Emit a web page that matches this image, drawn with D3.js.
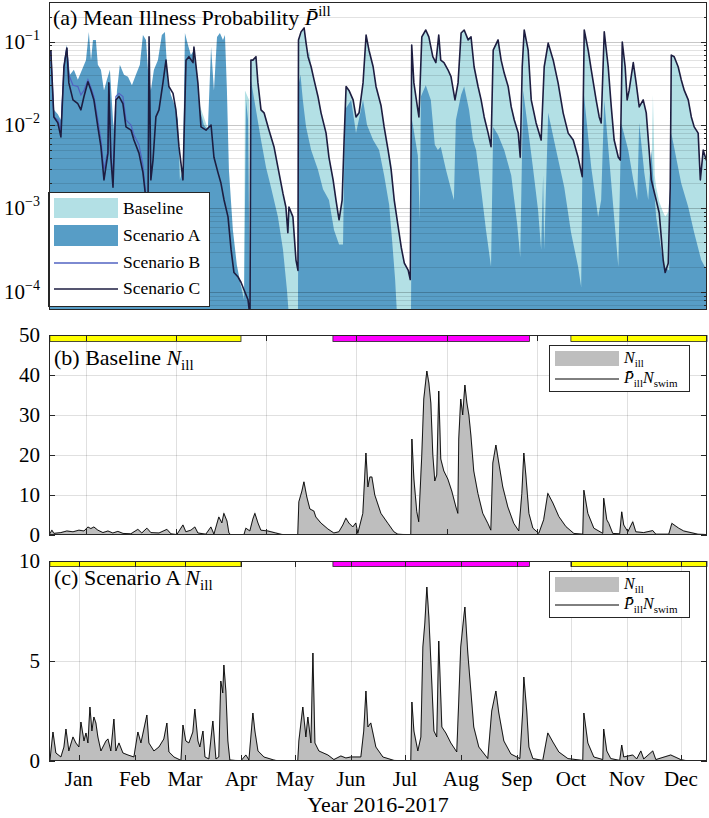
<!DOCTYPE html>
<html><head><meta charset="utf-8">
<script src="https://cdn.jsdelivr.net/npm/d3@7"></script>
<style>body{margin:0;background:#fff}text{font-family:"Liberation Serif",serif;fill:#000}</style>
</head><body><svg id="c" width="709" height="818"></svg>
<script>
// ---------------- DATA ----------------
// day offsets counted from 16 Dec 2016
const monthTicks = ["2017-01-01","2017-02-01","2017-03-01","2017-04-01","2017-05-01","2017-06-01","2017-07-01","2017-08-01","2017-09-01","2017-10-01","2017-11-01","2017-12-01"];
const monthLabels = ["Jan","Feb","Mar","Apr","May","Jun","Jul","Aug","Sep","Oct","Nov","Dec"];
const panelBTicks = ["2017-01-05","2017-02-24","2017-04-15","2017-06-04","2017-07-24","2017-09-12","2017-11-01"];
const seasonStart = ["2016-12-16","2017-05-22","2017-10-01"];
const seasonEnd   = ["2017-04-01","2017-09-08","2017-12-16"];
const seasonType  = ["winter","bathing","winter"];
const probTicks = [1e-4,1e-3,1e-2,1e-1];
const countTicksB = [0,10,20,30,40,50];
const countTicksC = [0,5,10];

const baselineP = [[0,0.05],[2.2,0.012],[6.1,0.007],[9.4,0.05],[15.5,0.015],[21.1,0.02],[28.3,0.004],[30,0.002],[36.6,0.015],[42.2,0.008],[49.4,0.004],[53.3,0.001],[58.8,0.01],[64.4,0.03],[70,0.01],[73.8,0.0018],[77,0.05],[82.1,0.02],[89.4,0.007],[96.6,0.001],[100.5,0.0003],[104.4,0.00014],[107.7,0.0001],[108.2,0.026],[110.5,0.02],[111.0,0.00005],
[111.5,0.060],[112.6,0.060],[114.3,0.066],[115.4,0.032],[117.1,0.0152],[118.8,0.014],[121.5,0.0087],[124.3,0.0055],[126.5,0.0031],[129.3,0.0015],[130.9,0.00104],[132.0,0.00051],[132.6,0.00104],[134.8,0.00079],[136.5,0.00024],[137.6,0.00018],[137.9,0.105],[139.3,0.131],[141.0,0.146],[142.1,0.096],[143.2,0.07],[144.0,0.079],[144.9,0.050],[146.5,0.035],[148.7,0.022],[150.4,0.014],[153.2,0.0080],[154.8,0.0041],[157.1,0.0022],[158.7,0.00126],[159.8,0.00088],[160.4,0.00073],[162.1,0.00126],[163.2,0.0066],[164.3,0.029],[165.9,0.026],[168.2,0.020],[169.8,0.0125],[171.5,0.014],[173.7,0.032],[175.4,0.120],[177.0,0.079],[179.3,0.050],[180.9,0.029],[183.7,0.017],[185.4,0.0095],[187.6,0.0050],[189.3,0.0035],[191.0,0.00126],[193.2,0.00060],[194.9,0.00034],[196.6,0.00022],[198.8,0.00018],[199.9,0.00014],[200.7,0.091],[201.9,0.032],[204.1,0.0152],[204.7,0.0125],[206.3,0.114],[208.5,0.138],[210.2,0.114],[212.4,0.066],[214.1,0.056],[215.7,0.120],[216.8,0.060],[218.6,0.056],[220.8,0.046],[222.5,0.038],[224.7,0.020],[226.4,0.032],[228.1,0.127],[229.8,0.138],[232.0,0.105],[233.6,0.114],[235.3,0.050],[237.5,0.029],[239.2,0.020],[240.9,0.0125],[243.1,0.0080],[244.7,0.0055],[245.9,0.079],[248.6,0.105],[250.3,0.060],[252.0,0.042],[254.2,0.029],[255.9,0.0165],[257.6,0.0115],[259.8,0.0080],[260.9,0.0041],[262.0,0.050],[263.1,0.138],[265.3,0.079],[267.0,0.020],[269.7,0.0106],[272.5,0.0066],[274.2,0.050],[276.4,0.096],[279.2,0.060],[281.9,0.032],[284.7,0.014],[287.5,0.0080],[290.3,0.0066],[293.0,0.0041],[295.3,0.0024],[296.4,0.138],[298.6,0.079],[300.3,0.046],[303.0,0.020],[304.7,0.0125],[305.8,0.0106],[307.5,0.131],[309.7,0.050],[311.4,0.0165],[313.0,0.0066],[315.3,0.0041],[316.4,0.0038],[317.5,0.099],[319.1,0.050],[320.2,0.020],[321.3,0.026],[323.6,0.056],[325.2,0.032],[326.9,0.0165],[329.1,0.020],[330.8,0.014],[332.4,0.0050],[333.6,0.0022],[334.5,0.023],[335.5,0.0025],[336.3,0.0018],[338.0,0.0012],[340.2,0.0009],[341.3,0.0008],[343.0,0.0009],[344.1,0.0018],[344.7,0.069],[346.3,0.066],[348.5,0.050],[350.2,0.035],[351.9,0.026],[354.1,0.020],[355.8,0.0125],[357.4,0.0095],[359.6,0.0080],[360.8,0.0022],[362.4,0.0050],[364.1,0.0038],[365,0.0041]];

const scenarioA = [[0,0.060],[0.5,0.079],[2.2,0.0152],[4.4,0.0135],[6.1,0.0115],[7.8,0.060],[9.4,0.091],[11.1,0.040],[13.3,0.046],[15.5,0.035],[17.8,0.046],[20.0,0.060],[21.6,0.131],[22.8,0.060],[23.9,0.105],[25.5,0.105],[26.6,0.053],[28.3,0.046],[30.0,0.026],[31.6,0.035],[33.3,0.046],[35.0,0.0115],[36.0,0.0066],[37.2,0.026],[38.8,0.053],[41.1,0.04],[43.3,0.038],[45.5,0.03],[47.7,0.04],[49.9,0.053],[51.6,0.120],[53.3,0.105],[54.4,0.046],[56.0,0.026],[57.7,0.046],[59.9,0.060],[62.1,0.120],[63.8,0.131],[65.4,0.035],[67.1,0.023],[69.3,0.017],[71.0,0.0115],[72.1,0.0022],[73.8,0.0029],[74.9,0.127],[76.6,0.091],[78.2,0.069],[79.9,0.079],[81.5,0.046],[83.2,0.0152],[85.4,0.010],[87.6,0.0087],[89.4,0.086],[91.0,0.026],[92.7,0.114],[94.3,0.127],[96.0,0.105],[97.1,0.120],[98.2,0.026],[99.3,0.0029],[101.5,0.00055],[103.7,0.00021],[105.9,0.00012],[107.7,0.00008],[108.8,0.020],[109.9,0.0115],[111.0,0.00005],[111.5,0.035],[114.3,0.0152],[117.1,0.0066],[119.9,0.0031],[122.6,0.0018],[126.5,0.00079],[129.3,0.00032],[131.5,0.000105],[132.6,0.00005],[137.6,0.00005],[137.9,0.03],[139.0,0.04],[140.3,0.020],[142.1,0.0095],[144.9,0.0050],[148.7,0.0029],[151.5,0.0017],[154.8,0.00126],[157.6,0.00055],[160.4,0.00037],[162.6,0.00037],[163.7,0.0152],[167.1,0.020],[169.8,0.0080],[173.7,0.020],[175.9,0.010],[179.3,0.0066],[182.6,0.0050],[185.4,0.0025],[188.2,0.0011],[189.8,0.00042],[191.5,0.00014],[192.6,0.00005],[200.3,0.00005],[200.9,0.0115],[204.1,0.0043],[205.2,0.00073],[205.8,0.022],[208.5,0.030],[211.3,0.020],[213.5,0.0058],[215.2,0.0050],[216.8,0.0055],[219.7,0.0029],[222.5,0.0017],[224.1,0.00126],[225.2,0.0115],[228.1,0.023],[229.8,0.029],[232.5,0.0152],[234.7,0.0066],[236.4,0.0050],[239.2,0.0017],[241.9,0.00055],[244.7,0.00020],[245.9,0.0095],[248.6,0.0076],[252.0,0.0050],[255.9,0.0025],[259.2,0.00065],[260.9,0.00026],[262.5,0.026],[265.3,0.0087],[268.1,0.0029],[270.8,0.00095],[272.5,0.00032],[273.6,0.0025],[274.2,0.00032],[276.4,0.014],[280.8,0.0050],[285.3,0.0018],[289.1,0.00051],[293.0,0.00020],[294.7,0.000114],[295.8,0.029],[300.3,0.0031],[304.1,0.00079],[305.8,0.00126],[307.5,0.020],[311.4,0.0020],[315.3,0.00020],[316.9,0.0106],[320.8,0.0050],[323.6,0.0022],[325.8,0.00126],[326.9,0.0106],[329.7,0.0027],[331.9,0.00126],[333.6,0.0050],[336.3,0.00079],[339.1,0.00032],[340.7,0.00020],[343.5,0.00018],[344.7,0.0080],[350.2,0.0020],[354.1,0.00104],[357.4,0.00051],[361.3,0.00024],[365,0.00017]];

const scenarioB = [[0.5,0.079],[2.2,0.0125],[4.4,0.0115],[6.1,0.0087],[7.8,0.050],[9.4,0.084],[10.5,0.040],[12.8,0.030],[15.5,0.029],[17.2,0.023],[18.9,0.026],[21.1,0.035],[22.8,0.028],[24.4,0.022],[26.6,0.0115],[28.3,0.0066],[30.0,0.0029],[32.2,0.0050],[32.7,0.032],[33.8,0.0050],[35.0,0.0022],[36.6,0.022],[38.3,0.024],[40.5,0.022],[42.2,0.0115],[45.0,0.010],[46.6,0.0076],[49.4,0.0058],[51.6,0.0033],[53.3,0.0014],[54.4,0.00083]];

const scenarioC = [[0.5,0.079],[2.2,0.0125],[4.4,0.0106],[6.1,0.0072],[7.8,0.050],[9.4,0.084],[10.5,0.032],[12.8,0.020],[15.5,0.018],[17.2,0.0152],[18.9,0.022],[21.1,0.033],[22.8,0.026],[24.4,0.020],[26.6,0.0095],[28.3,0.0055],[30.0,0.0022],[32.2,0.0046],[32.7,0.032],[33.8,0.0041],[35.0,0.0018],[36.6,0.020],[38.3,0.022],[40.5,0.018],[42.2,0.0095],[45.0,0.0087],[46.6,0.0066],[49.4,0.0046],[51.6,0.0027],[53.3,0.00126],[54.4,0.00083],[55.0,0.114],[56.0,0.0022],[57.2,0.0038],[58.8,0.0125],[60.5,0.0152],[62.7,0.032],[64.4,0.060],[66.0,0.029],[68.3,0.024],[69.9,0.0152],[71.6,0.0055],[73.8,0.0022],[75.5,0.060],[77.1,0.066],[79.4,0.056],[79.9,0.086],[82.1,0.032],[83.8,0.0095],[86.6,0.0087],[89.4,0.010],[91.0,0.0041],[93.2,0.0027],[94.9,0.0020],[96.6,0.00126],[98.8,0.00079],[100.5,0.00032],[102.1,0.00017],[104.4,0.00015],[106.0,0.00013],[107.7,0.000105],[109.9,0.00008],[111.0,0.00005],[111.5,0.060],[112.6,0.060],[114.3,0.066],[115.4,0.032],[117.1,0.0152],[118.8,0.014],[121.5,0.0087],[124.3,0.0055],[126.5,0.0031],[129.3,0.0015],[130.9,0.00104],[132.0,0.00051],[132.6,0.00104],[134.8,0.00079],[136.5,0.00024],[137.6,0.00018],[137.9,0.105],[139.3,0.131],[141.0,0.146],[142.1,0.096],[143.2,0.066],[144.9,0.050],[146.5,0.035],[148.7,0.022],[150.4,0.014],[153.2,0.0080],[154.8,0.0041],[157.1,0.0022],[158.7,0.00126],[159.8,0.00088],[160.4,0.00073],[162.1,0.00126],[163.2,0.0066],[164.3,0.029],[165.9,0.026],[168.2,0.020],[169.8,0.0125],[171.5,0.014],[173.7,0.032],[175.4,0.120],[177.0,0.079],[179.3,0.050],[180.9,0.029],[183.7,0.017],[185.4,0.0095],[187.6,0.0050],[189.3,0.0029],[191.0,0.00126],[193.2,0.00060],[194.9,0.00034],[196.6,0.00022],[198.8,0.00018],[199.9,0.00014],[200.7,0.091],[201.9,0.032],[204.1,0.0152],[204.7,0.0125],[206.3,0.114],[208.5,0.138],[210.2,0.114],[212.4,0.066],[214.1,0.056],[215.7,0.120],[216.8,0.060],[218.6,0.056],[220.8,0.046],[222.5,0.038],[224.7,0.020],[226.4,0.032],[228.1,0.127],[229.8,0.138],[232.0,0.105],[233.6,0.114],[235.3,0.050],[237.5,0.029],[239.2,0.020],[240.9,0.0125],[243.1,0.0080],[244.7,0.0055],[245.9,0.079],[248.6,0.105],[250.3,0.060],[252.0,0.042],[254.2,0.029],[255.9,0.0165],[257.6,0.0115],[259.8,0.0080],[260.9,0.0041],[262.0,0.050],[263.1,0.138],[265.3,0.079],[267.0,0.020],[269.7,0.0106],[272.5,0.0066],[274.2,0.050],[276.4,0.096],[279.2,0.060],[281.9,0.032],[284.7,0.014],[287.5,0.0080],[290.3,0.0066],[293.0,0.0041],[295.3,0.0024],[296.4,0.138],[298.6,0.079],[300.3,0.046],[303.0,0.020],[304.7,0.0125],[305.8,0.0106],[307.5,0.131],[309.7,0.050],[311.4,0.0165],[313.0,0.0066],[315.3,0.0041],[316.4,0.0038],[317.5,0.099],[319.1,0.050],[320.2,0.020],[321.3,0.026],[323.6,0.056],[325.2,0.032],[326.9,0.0165],[329.1,0.020],[330.8,0.014],[332.4,0.0050],[333.6,0.0022],[336.3,0.00126],[338.0,0.00088],[340.2,0.00024],[341.3,0.00017],[343.0,0.00022],[344.1,0.0018],[344.7,0.069],[346.3,0.066],[348.5,0.050],[350.2,0.035],[351.9,0.026],[354.1,0.020],[355.8,0.0125],[357.4,0.0095],[359.6,0.0080],[360.8,0.0022],[362.4,0.0050],[364.1,0.0038],[365,0.0041]];

const baselineN = [[0,0.3],[1.1,1.2],[2.2,0.4],[6.1,0.6],[9.4,1.0],[12.8,0.8],[16.1,1.2],[18.9,1.0],[21.1,2.0],[22.7,1.6],[24.4,2.0],[26.6,1.2],[29.4,0.6],[32.2,1.0],[34.9,0.5],[37.7,0.9],[40.5,0.4],[44.9,0.3],[48.8,1.4],[51.0,0.5],[53.8,1.7],[56.0,0.6],[60.5,0.5],[64.9,1.4],[67.1,0.3],[70.4,0.1],[73.8,2.5],[75.4,0.8],[78.2,1.2],[80.4,2.0],[82.1,0.5],[86.5,0.2],[89.3,2.0],[91.0,0.2],[93.7,4.5],[95.4,3.0],[96.5,5.4],[98.2,3.5],[99.3,0.5],[100.4,0],[107.6,0],[108.7,1.7],[110.9,1.0],[112.6,4.0],[113.7,5.4],[115.4,3.0],[117.0,1.2],[120.9,1.0],[125.3,0.5],[129.8,0],[137.5,0],[138.1,8.3],[139.8,11.0],[140.9,13.3],[142.5,9.5],[144.2,6.5],[146.4,6.0],[147.5,4.5],[150.3,3.0],[154.2,1.5],[157.5,0.5],[160.3,0.8],[162.5,2.5],[164.2,4.2],[165.8,3.0],[168.0,2.0],[169.7,3.0],[170.8,0.4],[173.6,5.4],[175.3,20.5],[176.4,12.0],[177.5,14.5],[178.6,14.5],[180.2,10.0],[183.6,5.4],[187.5,2.9],[190.8,0.8],[193.0,0.2],[200.2,0],[200.8,24.0],[201.9,14.0],[203.5,5.8],[204.6,3.3],[206.3,20.0],[207.4,34.0],[209.1,41.0],[210.2,38.0],[211.3,33.0],[212.4,20.0],[213.5,13.5],[214.6,15.0],[215.7,36.0],[216.8,19.0],[218.5,16.0],[220.7,14.0],[222.9,11.0],[225.2,7.0],[226.3,5.4],[226.8,24.0],[227.9,34.0],[229.0,30.0],[230.2,37.5],[231.3,33.0],[232.4,30.0],[233.5,25.0],[235.1,16.0],[237.4,10.4],[240.1,5.4],[242.9,2.9],[244.6,1.2],[245.7,18.0],[247.4,22.5],[249.0,18.0],[251.2,12.0],[254.0,7.0],[257.3,2.9],[260.1,1.0],[261.8,10.4],[262.9,20.5],[264.0,15.0],[265.7,5.4],[267.9,1.7],[271.2,0.4],[273.9,3.8],[276.2,10.4],[279.0,8.0],[282.3,4.6],[286.2,2.1],[290.6,0.4],[295.6,0.2],[296.2,11.2],[298.4,5.4],[301.7,1.7],[306.7,0.4],[307.2,9.2],[308.9,3.8],[310.0,2.9],[312.2,0.4],[316.1,0.3],[317.2,5.8],[318.3,2.5],[320.6,0.8],[323.3,3.3],[325.0,0.8],[329.4,0.6],[334.4,1.1],[336.1,0.2],[343.3,0.2],[345.0,2.9],[348.8,1.7],[351.6,1.0],[359.4,0.2],[365,0.1]];

const scenarioAN = [[0,0],[1.7,1.45],[3.3,0.4],[6.1,0.2],[7.8,0.7],[8.9,1.6],[10.5,0.5],[12.8,1.2],[14.4,0.9],[16.1,0.7],[17.2,1.95],[18.9,1.0],[20.0,1.4],[21.1,0.9],[22.2,2.7],[23.3,1.5],[24.4,2.2],[25.5,1.9],[26.6,1.2],[28.3,0.5],[31.1,1.0],[32.2,1.1],[33.8,0.5],[35.5,2.1],[36.6,0.5],[38.3,0.9],[40.5,0.4],[43.3,0.3],[46.6,0.2],[48.8,1.45],[50.5,0.9],[53.8,2.3],[54.9,0.9],[57.7,0.5],[60.5,0.7],[63.2,1.1],[64.9,1.9],[66.0,0.45],[68.8,0.2],[72.7,0.03],[73.8,1.8],[75.4,1.0],[77.1,0.9],[79.3,1.45],[80.4,2.6],[82.1,1.0],[83.2,0.7],[84.9,1.5],[86.0,0.2],[88.2,0.1],[89.8,1.5],[90.4,2.0],[92.1,0.1],[93.7,0.2],[94.8,4.0],[95.9,3.4],[96.5,4.8],[97.6,3.5],[98.7,1.0],[99.8,0.05],[105.9,0],[108.7,0.3],[110.4,0.05],[112.6,2.4],[113.7,1.5],[115.4,0.5],[118.7,0.2],[124.2,0.05],[126.4,0],[137.5,0],[138.1,1.0],[140.3,2.7],[142.0,1.2],[143.1,2.2],[144.8,0.9],[145.9,5.4],[147.0,0.9],[149.2,0.5],[154.2,0.3],[157.5,0.07],[161.4,0.25],[164.2,0.15],[166.9,0.2],[172.5,0.2],[174.1,1.5],[175.3,3.5],[176.4,1.7],[178.0,1.9],[180.8,0.7],[184.7,0.2],[190.8,0.03],[200.2,0],[200.8,2.95],[201.9,1.5],[204.1,0.5],[205.8,1.2],[206.9,5.7],[208.0,6.9],[209.1,8.7],[210.2,7.2],[211.3,5.0],[213.0,1.5],[214.6,1.2],[215.7,6.0],[217.4,1.7],[219.6,1.4],[222.4,0.9],[225.7,0.45],[226.8,3.0],[227.9,5.7],[229.6,7.2],[230.2,7.7],[231.8,5.4],[233.5,3.5],[235.1,1.7],[237.9,0.7],[242.9,0.12],[245.1,2.5],[247.4,3.5],[249.0,2.4],[251.8,1.0],[255.7,0.35],[260.7,0.12],[262.3,2.5],[262.9,4.2],[264.5,2.5],[265.7,0.7],[267.9,0.12],[273.4,0.03],[276.2,1.4],[279.0,0.95],[282.3,0.45],[287.3,0.12],[295.6,0.03],[296.2,2.4],[298.4,0.9],[301.7,0.2],[306.7,0.07],[307.2,1.6],[308.9,0.5],[311.1,0.12],[316.1,0.03],[317.2,0.8],[318.3,0.2],[323.3,0.3],[325.5,0.1],[327.8,0.5],[329.4,0.1],[334.4,0.5],[336.1,0.07],[344.4,0.3],[349.9,0.07],[353.8,0],[365,0]];

// ---------------- DRAW ----------------
const COL = {base:"#b3e0e5", a:"#579dc6", b:"#5263c2", c:"#1d1d40", gray:"#bebebe", winter:"#ffff00", bathing:"#ff00ff", axis:"#262626"};
const svg = d3.select("#c");
const defs = svg.append("defs");
const X0 = 49, X1 = 707;
const dayMs = 864e5, t0 = Date.UTC(2016,11,16);
const toDate = d => new Date(t0 + d*dayMs);
const parse = s => new Date(s + "T00:00:00Z");
const x = d3.scaleUtc().domain([Date.UTC(2016,11,15,12), Date.UTC(2017,11,15,12)]).range([X0, X1]);

function clip(id, top, bottom){
  defs.append("clipPath").attr("id", id).append("rect")
    .attr("x", X0).attr("y", top).attr("width", X1 - X0).attr("height", bottom - top);
}
function hline(g, y, x1, x2, stroke, op, w){
  g.append("line").attr("x1", x1).attr("x2", x2).attr("y1", y).attr("y2", y)
   .attr("stroke", stroke).attr("stroke-opacity", op).attr("stroke-width", w || 1);
}
function vline(g, xx, y1, y2, stroke, op, w){
  g.append("line").attr("x1", xx).attr("x2", xx).attr("y1", y1).attr("y2", y2)
   .attr("stroke", stroke).attr("stroke-opacity", op).attr("stroke-width", w || 1);
}

// ===== Panel (a) =====
const PA = {top:2, bottom:310};
const yA = d3.scaleLog().domain([6.04e-5, 0.299]).range([PA.bottom, PA.top]);
clip("clipA", PA.top, PA.bottom);
const gA = svg.append("g").attr("clip-path", "url(#clipA)");
const areaA = d3.area().x(d => x(toDate(d[0]))).y0(PA.bottom).y1(d => yA(d[1]));
const lineA = d3.line().x(d => x(toDate(d[0]))).y(d => yA(d[1]));
gA.append("path").datum(baselineP).attr("d", areaA).attr("fill", COL.base);
gA.append("path").datum(scenarioA).attr("d", areaA).attr("fill", COL.a);
const isMajor = v => Math.abs(Math.log10(v) - Math.round(Math.log10(v))) < 1e-6;
yA.ticks().forEach(v => {
  const yy = Math.round(yA(v)) + 0.5;
  hline(gA, yy, X0, X1, "#000", isMajor(v) ? 0.22 : 0.13, isMajor(v) ? 1 : 0.9);
});
gA.append("path").datum(scenarioB).attr("d", lineA).attr("fill", "none").attr("stroke", COL.b).attr("stroke-width", 1.2);
gA.append("path").datum(scenarioC).attr("d", lineA).attr("fill", "none").attr("stroke", COL.c).attr("stroke-width", 1.6).attr("stroke-linejoin", "round");
// ticks + labels
const axA = svg.append("g");
yA.ticks().forEach(v => {
  const yy = Math.round(yA(v)) + 0.5, len = isMajor(v) ? 6 : 3;
  hline(axA, yy, X0, X0 + len, COL.axis, 1);
  hline(axA, yy, X1 - len, X1, COL.axis, 1);
});
probTicks.forEach(v => {
  const t = axA.append("text").attr("x", 40).attr("y", yA(v) + 7).attr("text-anchor", "end").attr("font-size", 21);
  t.append("tspan").text("10");
  t.append("tspan").attr("dy", -9).attr("font-size", 14).text("\u2212" + Math.round(-Math.log10(v)));
});
// legend (a)
const lg = svg.append("g");
lg.append("rect").attr("x", 48.5).attr("y", 192.5).attr("width", 161).attr("height", 114).attr("fill", "#fff").attr("stroke", COL.axis);
lg.append("rect").attr("x", 54).attr("y", 198).attr("width", 64).attr("height", 20).attr("fill", COL.base);
lg.append("rect").attr("x", 54).attr("y", 225).attr("width", 64).attr("height", 21).attr("fill", COL.a);
hline(lg, 263, 54, 118, COL.b, 1, 1.3);
hline(lg, 289, 54, 118, COL.c, 1, 1.3);
[["Baseline", 214], ["Scenario A", 241], ["Scenario B", 268], ["Scenario C", 294]].forEach(([s, yy]) =>
  lg.append("text").attr("x", 123).attr("y", yy).attr("font-size", 17.5).text(s));
svg.append("rect").attr("x", X0 + 0.5).attr("y", PA.top + 0.5).attr("width", X1 - X0 - 1).attr("height", PA.bottom - PA.top - 1)
  .attr("fill", "none").attr("stroke", COL.axis);
{
  const t = svg.append("text").attr("x", 53).attr("y", 25).attr("font-size", 22);
  t.append("tspan").text("(a) Mean Illness Probability ");
  t.append("tspan").attr("font-style", "italic").text("P\u0304");
  t.append("tspan").attr("dy", -9).attr("font-size", 15).text("ill");
}

// ===== Panels (b), (c) =====
function countPanel(o){
  const y = d3.scaleLinear().domain([0, o.ymax]).range([o.bottom, o.top]);
  clip(o.id, o.top, o.bottom);
  const g = svg.append("g");
  o.gridX.forEach(dt => vline(g, Math.round(x(dt)) + 0.5, o.top, o.bottom, "#000", 0.12));
  o.yTicks.forEach(v => { if (v > 0 && v < o.ymax) hline(g, Math.round(y(v)) + 0.5, X0, X1, "#000", 0.12); });
  const gd = svg.append("g").attr("clip-path", `url(#${o.id})`);
  const area = d3.area().x(d => x(toDate(d[0]))).y0(o.bottom).y1(d => y(d[1]));
  const line = d3.line().x(d => x(toDate(d[0]))).y(d => y(d[1]));
  gd.append("path").datum(o.data).attr("d", area).attr("fill", COL.gray).attr("stroke", "#c9c9c9").attr("stroke-width", 1.3);
  gd.append("path").datum(o.data).attr("d", line).attr("fill", "none").attr("stroke", "#000").attr("stroke-width", 0.9).attr("stroke-linejoin", "round");
  seasonStart.forEach((s, i) => {
    const xa = Math.max(X0, x(parse(s))), xb = Math.min(X1, x(parse(seasonEnd[i])));
    svg.append("rect").attr("x", xa).attr("y", o.top + 0.5).attr("width", xb - xa).attr("height", o.barH)
      .attr("fill", COL[seasonType[i]]).attr("stroke", "#222").attr("stroke-width", 0.8);
  });
  o.gridX.forEach(dt => {
    const xx = Math.round(x(dt)) + 0.5;
    vline(svg, xx, o.bottom - 6, o.bottom, COL.axis, 1);
    vline(svg, xx, o.top, o.top + 6, COL.axis, 1);
  });
  o.yTicks.forEach(v => {
    const yy = Math.round(y(v)) + 0.5;
    hline(svg, yy, X0, X0 + 6, COL.axis, 1);
    hline(svg, yy, X1 - 6, X1, COL.axis, 1);
    svg.append("text").attr("x", 40).attr("y", y(v) + 7).attr("text-anchor", "end").attr("font-size", 21).text(v);
  });
  svg.append("rect").attr("x", X0 + 0.5).attr("y", o.top + 0.5).attr("width", X1 - X0 - 1).attr("height", o.bottom - o.top - 1)
    .attr("fill", "none").attr("stroke", COL.axis);
  const t = svg.append("text").attr("x", 54).attr("y", o.labelY).attr("font-size", 22);
  t.append("tspan").text(o.label + " ");
  t.append("tspan").attr("font-style", "italic").text("N");
  t.append("tspan").attr("dy", 5).attr("font-size", 15).text("ill");
  const L = o.legTop;
  svg.append("rect").attr("x", 549.5).attr("y", L + 0.5).attr("width", 140).attr("height", 46).attr("fill", "#fff").attr("stroke", COL.axis);
  svg.append("rect").attr("x", 555).attr("y", L + 6).attr("width", 64).attr("height", 15).attr("fill", COL.gray);
  hline(svg, L + 34, 555, 619, "#000", 1, 1);
  const t1 = svg.append("text").attr("x", 624).attr("y", L + 18).attr("font-size", 16);
  t1.append("tspan").attr("font-style", "italic").text("N");
  t1.append("tspan").attr("dy", 4).attr("font-size", 11).text("ill");
  const t2 = svg.append("text").attr("x", 624).attr("y", L + 38).attr("font-size", 16);
  t2.append("tspan").attr("font-style", "italic").text("P\u0304");
  t2.append("tspan").attr("dy", 4).attr("font-size", 11).text("ill");
  t2.append("tspan").attr("dy", -4).attr("font-style", "italic").text("N");
  t2.append("tspan").attr("dy", 4).attr("font-size", 11).text("swim");
}
countPanel({id:"clipB", top:335, bottom:535, ymax:50, yTicks:countTicksB, gridX:panelBTicks.map(parse), data:baselineN,
  label:"(b) Baseline", labelY:365, legTop:345, barH:6});
countPanel({id:"clipC", top:561, bottom:761, ymax:10, yTicks:countTicksC, gridX:monthTicks.map(parse), data:scenarioAN,
  label:"(c) Scenario A", labelY:585, legTop:571, barH:5});
monthTicks.forEach((m, i) => svg.append("text").attr("x", x(parse(m))).attr("y", 786).attr("text-anchor", "middle").attr("font-size", 21).text(monthLabels[i]));
svg.append("text").attr("x", 378).attr("y", 812).attr("text-anchor", "middle").attr("font-size", 22).text("Year 2016-2017");
</script></body></html>
